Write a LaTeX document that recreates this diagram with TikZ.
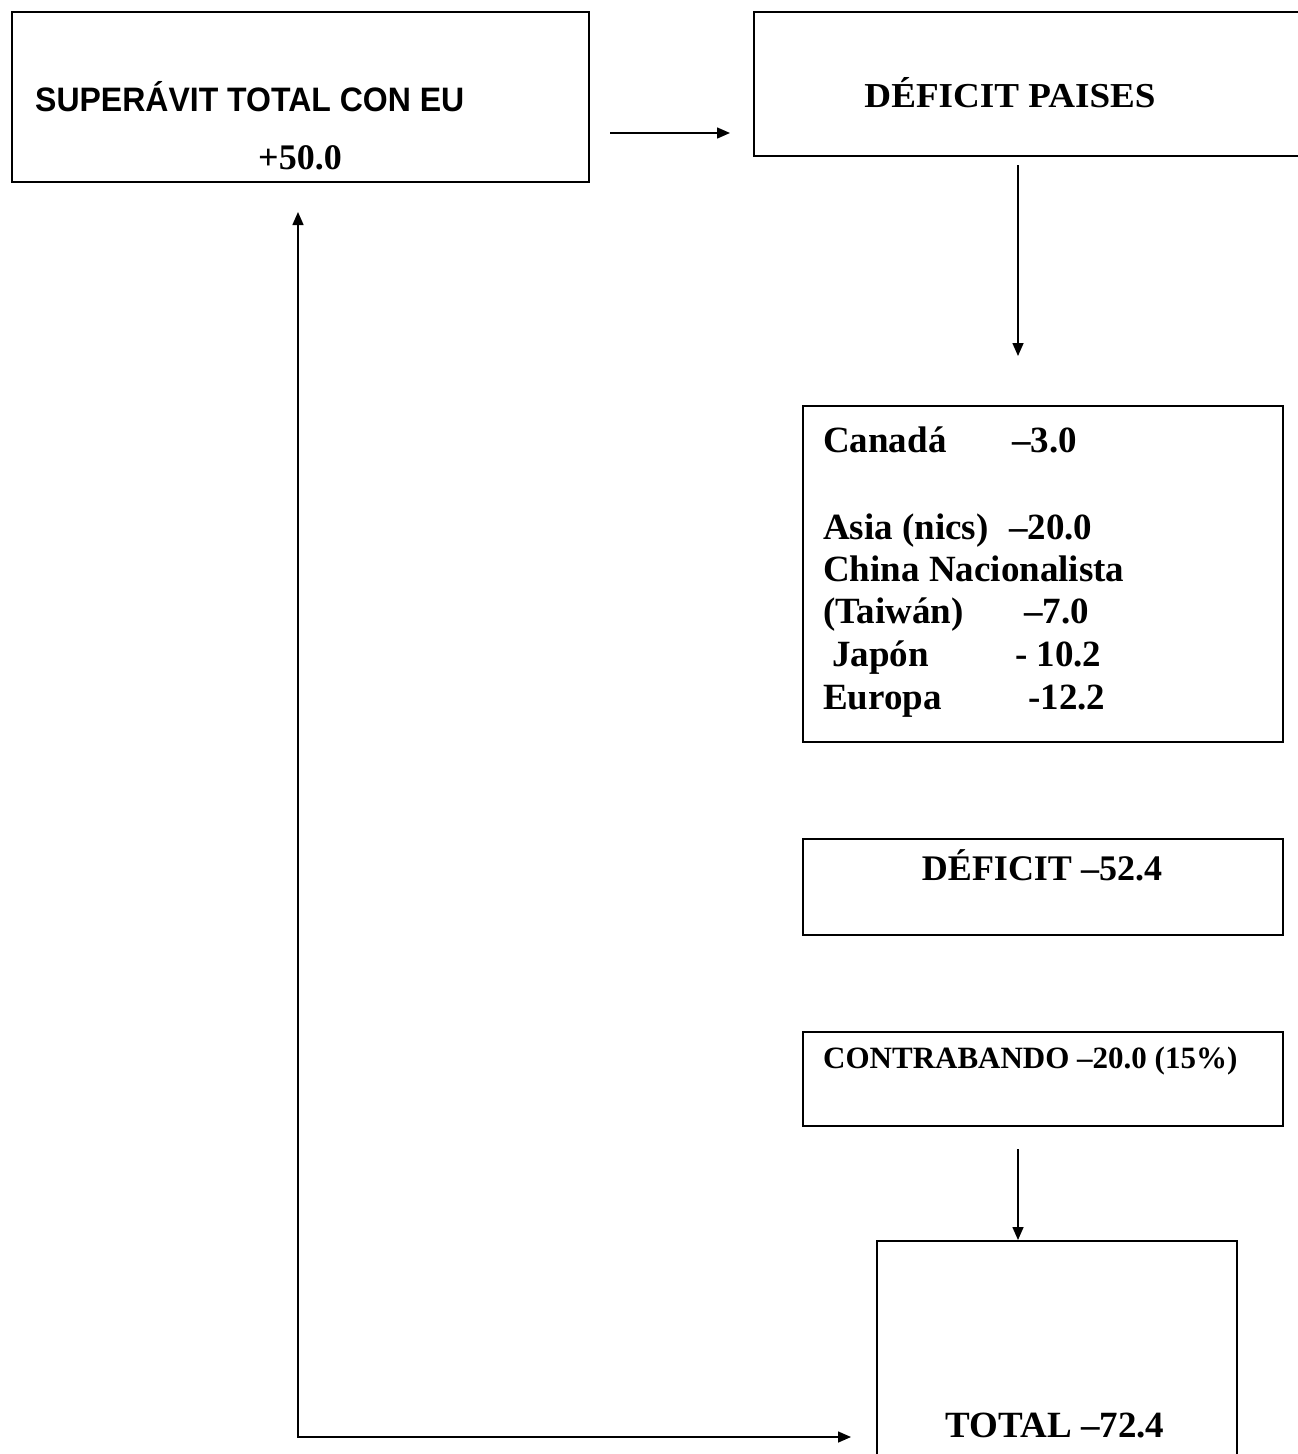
\documentclass[tikz,border=0pt]{standalone}
\usepackage{fontspec}
\setmainfont{Liberation Serif}
\newfontfamily\arialf{Liberation Sans}
\usetikzlibrary{arrows.meta}
\begin{document}
\begin{tikzpicture}[x=1pt,y=-1pt,
  box/.style={draw, line width=1.6pt, inner sep=0pt, anchor=north west},
  arr/.style={line width=1.5pt, -{Triangle[length=13pt,width=11pt]}},
  arrboth/.style={line width=1.5pt, {Triangle[length=13pt,width=11pt]}-{Triangle[length=13pt,width=11pt]}},
  txt/.style={inner sep=0pt, anchor=base west, font=\bfseries},
  ctxt/.style={inner sep=0pt, anchor=base, font=\bfseries},
  listfont/.style={font=\bfseries\fontsize{37}{42}\selectfont}]
\useasboundingbox (0,0) rectangle (1298,1454);
\clip (0,0) rectangle (1298,1454);
\fill[white] (0,0) rectangle (1298,1454);

% boxes
\node[box, minimum width=577pt, minimum height=170pt] (b1) at (11,11) {};
\node[box, minimum width=560pt, minimum height=144pt] (b2) at (753,11) {};
\node[box, minimum width=480pt, minimum height=336pt] (b3) at (802,405) {};
\node[box, minimum width=480pt, minimum height=96pt] (b4) at (802,838) {};
\node[box, minimum width=480pt, minimum height=94pt] (b5) at (802,1031) {};
\node[box, minimum width=360pt, minimum height=260pt] (b6) at (876,1240) {};

% texts
\node[txt, font=\arialf\bfseries\fontsize{32}{36}\selectfont] (t1) at (35,111) {\scalebox{1}[1.06]{SUPERÁVIT TOTAL CON EU}};
\node[ctxt, font=\bfseries\fontsize{36}{40}\selectfont] (t2) at (300,169) {+50.0};
\node[ctxt, font=\bfseries\fontsize{35}{40}\selectfont] (t3) at (1010,107) {\scalebox{1.06}[1]{DÉFICIT PAISES}};

\node[txt, listfont] (l1) at (823,452) {\makebox[189pt][l]{Canadá}–3.0};
\node[txt, listfont] (l2) at (823,539) {\makebox[186pt][l]{Asia (nics)}–20.0};
\node[txt, listfont] (l3) at (823,581) {China Nacionalista};
\node[txt, listfont] (l4) at (823,623) {\makebox[201pt][l]{(Taiwán)}–7.0};
\node[txt, listfont] (l5) at (832,666) {\makebox[183pt][l]{Japón}- 10.2};
\node[txt, listfont] (l6) at (823,709) {\makebox[205pt][l]{Europa}-12.2};

\node[ctxt, font=\bfseries\fontsize{36}{40}\selectfont] (t4) at (1042,880) {DÉFICIT –52.4};
\node[txt, font=\bfseries\fontsize{31}{36}\selectfont] (t5) at (823,1068) {CONTRABANDO –20.0 (15\%)};
\node[ctxt, font=\bfseries\fontsize{37}{40}\selectfont] (t6) at (1055,1437) {TOTAL –72.4};

% connector points
\coordinate (a1s) at (610,133);
\coordinate (a1e) at (730,133);
\coordinate (a2s) at (1018,165);
\coordinate (a2e) at (1018,356);
\coordinate (a3s) at (1018,1149);
\coordinate (up) at (298,212);
\coordinate (corner) at (298,1437);
\coordinate (rt) at (851,1437);

\draw[arr] (a1s) -- (a1e);
\draw[arr] (a2s) -- (a2e);
\draw[arr] (a3s) -- (a3s |- b6.north);
\draw[arrboth] (up) -- (corner) -- (rt);
\end{tikzpicture}
\end{document}
